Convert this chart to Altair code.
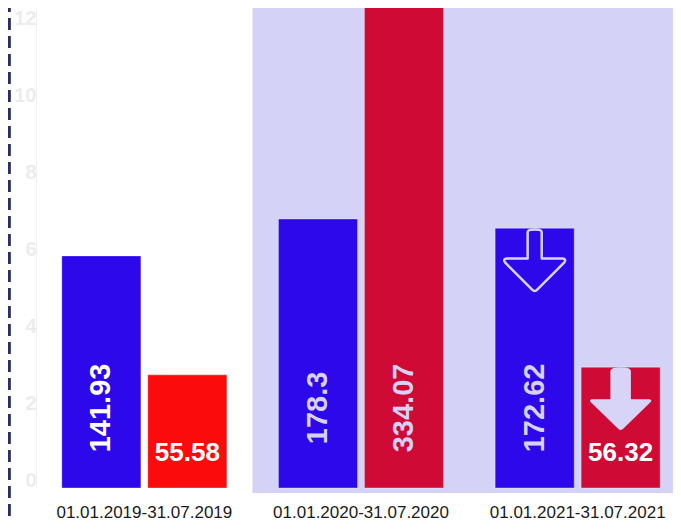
import altair as alt
import pandas as pd

periods = ["01.01.2019-31.07.2019", "01.01.2020-31.07.2020", "01.01.2021-31.07.2021"]
series = ["Blue", "Red"]
blue_heights = [6.03, 6.99, 6.75]
red_heights = [2.94, 12.6, 3.14]
blue_labels = ["141.93", "178.3", "172.62"]
red_labels = ["55.58", "334.07", "56.32"]
axis_ticks = [0, 2, 4, 6, 8, 10, 12]

# styles (one per bar, order: blue, red for each period)
bar_fill = ["#2d08ea", "#fb0b0b", "#2d08ea", "#cf0a35", "#2d08ea", "#cf0a35"]
label_fill = ["#ffffff", "#ffffff", "#d6d2f7", "#d6d2f7", "#d6d2f7", "#ffffff"]

rows = []
for i, p in enumerate(periods):
    rows.append(dict(period=p, series="Blue", value=blue_heights[i], label=blue_labels[i]))
    rows.append(dict(period=p, series="Red", value=red_heights[i], label=red_labels[i]))
df = pd.DataFrame(rows)
df["bar_color"] = bar_fill
df["text_color"] = label_fill

FONT = "Liberation Sans"
LAV = "#d5d2f7"
YMAX = 12.47

x_enc = alt.X("period:N", sort=periods,
              scale=alt.Scale(paddingInner=0, paddingOuter=0, range=[0, 650]),
              axis=alt.Axis(title=None, labelAngle=0, domain=False, ticks=False,
                            labelFontSize=17, labelColor="#1a1a1a", labelPadding=16,
                            labelFont=FONT, labelLimit=400))
xo_enc = alt.XOffset("series:N", sort=series,
                     scale=alt.Scale(paddingInner=0.08, paddingOuter=0.3))
y_scale = alt.Scale(domain=[0, YMAX], nice=False, zero=True)
y_enc = alt.Y("value:Q", scale=y_scale,
              axis=alt.Axis(values=axis_ticks, title=None, grid=False, ticks=False,
                            labelColor="#ececec", labelFontSize=20, labelFontWeight="bold",
                            labelFont=FONT, domainColor="#f0f0f0", labelPadding=0,
                            labelOffset=-8))

base = alt.Chart(df)

bg = base.mark_rect(color=LAV).encode(
    x=x_enc, y=alt.datum(YMAX), y2=alt.datum(-0.13)
).transform_filter(alt.FieldOneOfPredicate(field="period", oneOf=periods[1:]))

dash = base.mark_rule(strokeDash=[12, 6], color="#2b2d5c", strokeWidth=2.5).encode(
    x=alt.value(-27), y=alt.value(-8), y2=alt.value(520)
)

bars = base.mark_bar(strokeWidth=1, strokeOpacity=0.35, stroke="#ffffff").encode(
    x=x_enc, xOffset=xo_enc, y=y_enc,
    color=alt.Color("bar_color:N", scale=None)
)

txt_v = base.mark_text(angle=270, fontSize=29, fontWeight="bold", font=FONT,
                       baseline="middle", align="center").encode(
    x=x_enc, xOffset=xo_enc, y=alt.datum(2.08), text="label:N",
    color=alt.Color("text_color:N", scale=None)
).transform_filter("datum.value >= 4")

txt_h = base.mark_text(fontSize=26, fontWeight="bold", font=FONT,
                       baseline="middle", align="center").encode(
    x=x_enc, xOffset=xo_enc, y=alt.datum(0.9), text="label:N",
    color=alt.Color("text_color:N", scale=None)
).transform_filter("datum.value < 4")

outline_arrow = ("M-0.22,0.12 Q-0.22,0.04 0,0.04 Q0.22,0.04 0.22,0.12 L0.22,0.95 "
                 "L0.88,0.95 Q1,0.97 0.92,1.08 L0.08,1.92 Q0,2 -0.08,1.92 "
                 "L-0.92,1.08 Q-1,0.97 -0.88,0.95 L-0.22,0.95 Z")
filled_arrow = ("M-0.32,0.12 Q-0.32,0 0,0 Q0.32,0 0.32,0.12 L0.32,1 L0.9,1 "
                "Q1,1.02 0.93,1.1 L0.07,1.93 Q0,2 -0.07,1.93 L-0.93,1.1 "
                "Q-1,1.02 -0.9,1 L-0.32,1 Z")

arr1 = base.mark_point(shape=outline_arrow, size=4096, filled=False, stroke="#d8d4f8",
                       strokeWidth=2.5, strokeJoin="round", opacity=1).encode(
    x=x_enc, xOffset=xo_enc, y=y_enc
).transform_filter(
    (alt.datum.period == periods[2]) & (alt.datum.series == "Blue"))

arr2 = base.mark_point(shape=filled_arrow, size=4096, filled=True, fill="#d8d4f8",
                       strokeWidth=0, opacity=1).encode(
    x=x_enc, xOffset=xo_enc, y=y_enc
).transform_filter(
    (alt.datum.period == periods[2]) & (alt.datum.series == "Red"))

chart = alt.layer(bg, dash, bars, txt_v, txt_h, arr1, arr2).properties(
    width=637, height=480,
    autosize=alt.AutoSizeParams(type="none"),
    padding={"left": 28, "top": 0, "right": 0, "bottom": 33},
    background="white"
).configure_view(stroke=None)

chart.save("out.html", embed_options={"renderer": "svg", "actions": False})
